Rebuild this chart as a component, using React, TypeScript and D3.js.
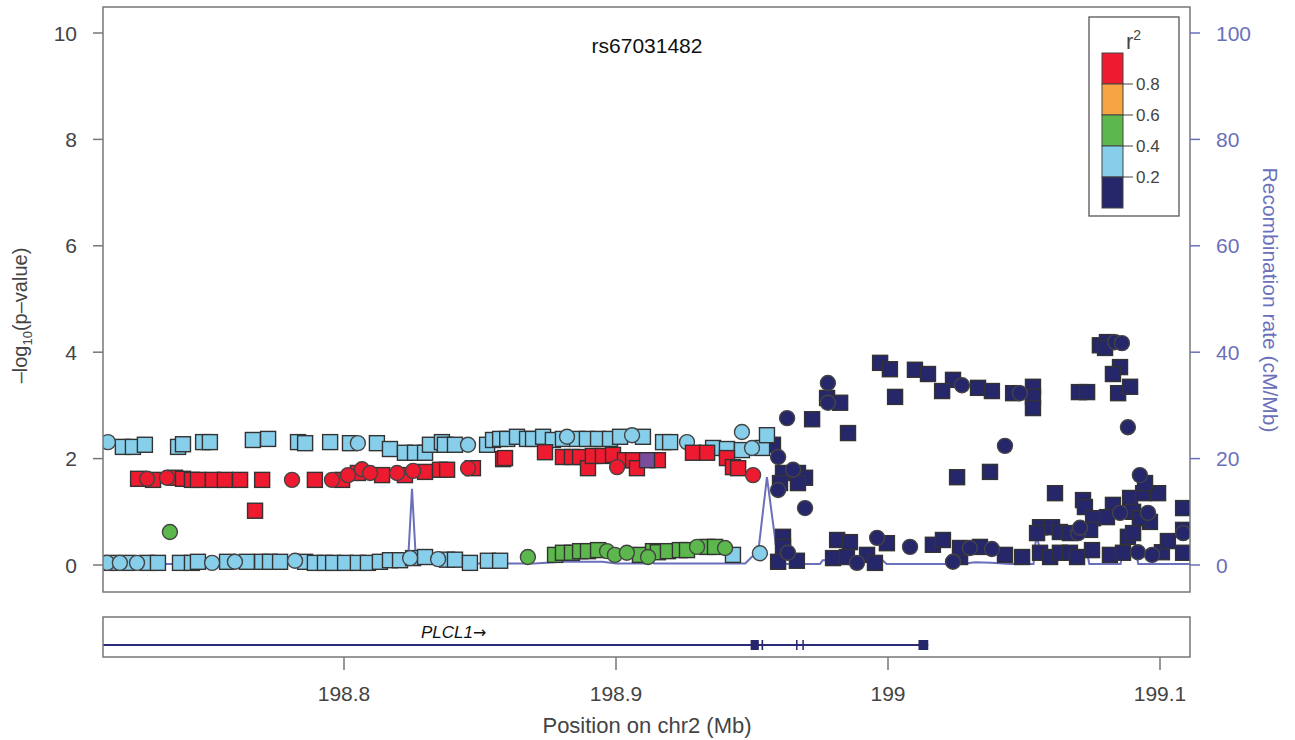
import * as d3 from "d3";

// r2 legend classes (bottom to top)
const legendColors = ["#26266b", "#87ceeb", "#5cb84c", "#f7a443", "#ee1a2f"];
const legendTicks = ["0.2", "0.4", "0.6", "0.8"];

const leftTicks = [0, 2, 4, 6, 8, 10];
const rightTicks = [0, 20, 40, 60, 80, 100];
const xTicks = [198.8, 198.9, 199, 199.1];

// [position Mb, -log10 p]
const skySquares: [number, number][] = [
  [198.7187, 2.22], [198.7224, 2.22], [198.7268, 2.26], [198.739, 2.22], [198.7408, 2.27],
  [198.7482, 2.31], [198.7507, 2.31], [198.7665, 2.35], [198.7721, 2.37], [198.7831, 2.31],
  [198.7857, 2.29], [198.7949, 2.31], [198.8022, 2.29], [198.8121, 2.29], [198.8169, 2.18],
  [198.8224, 2.11], [198.8261, 2.11], [198.8298, 2.11], [198.8316, 2.26], [198.836, 2.31],
  [198.8371, 2.26], [198.8408, 2.26], [198.8526, 2.26], [198.8548, 2.35], [198.8574, 2.37],
  [198.86, 2.37], [198.8636, 2.41], [198.8673, 2.37], [198.8695, 2.37], [198.8732, 2.41],
  [198.8768, 2.35], [198.8805, 2.37], [198.8857, 2.37], [198.8893, 2.37], [198.8934, 2.37],
  [198.8978, 2.37], [198.9015, 2.41], [198.9099, 2.41], [198.9173, 2.31], [198.9199, 2.31],
  [198.9357, 2.2], [198.9408, 2.18], [198.9463, 2.16], [198.9537, 2.2], [198.9555, 2.44],
  [198.7147, 0.04], [198.7206, 0.04], [198.7276, 0.04], [198.7316, 0.04], [198.7397, 0.04],
  [198.7441, 0.04], [198.7463, 0.06], [198.757, 0.06], [198.7643, 0.06], [198.7699, 0.06],
  [198.7728, 0.06], [198.7765, 0.06], [198.7857, 0.06], [198.7893, 0.04], [198.793, 0.04],
  [198.796, 0.04], [198.8004, 0.04], [198.8051, 0.04], [198.8088, 0.04], [198.8132, 0.06],
  [198.8169, 0.09], [198.8206, 0.09], [198.8254, 0.13], [198.8298, 0.15], [198.8379, 0.1],
  [198.8408, 0.1], [198.8463, 0.04], [198.8529, 0.08], [198.8574, 0.08], [198.943, 0.19],
];
const skyCircles: [number, number][] = [
  [198.7132, 2.31], [198.8051, 2.29], [198.8456, 2.26], [198.882, 2.41], [198.9059, 2.44],
  [198.9261, 2.31], [198.9463, 2.5], [198.95, 2.2],
  [198.7129, 0.04], [198.7176, 0.04], [198.7239, 0.04], [198.7515, 0.04], [198.7599, 0.06],
  [198.782, 0.08], [198.8243, 0.13], [198.8346, 0.11], [198.9529, 0.22],
];
const redSquares: [number, number][] = [
  [198.7243, 1.62], [198.7298, 1.6], [198.7379, 1.64], [198.7408, 1.62], [198.7441, 1.6],
  [198.7463, 1.6], [198.7518, 1.6], [198.7562, 1.6], [198.7618, 1.6], [198.7699, 1.6],
  [198.7893, 1.6], [198.7993, 1.6], [198.8051, 1.73], [198.814, 1.69], [198.8224, 1.69],
  [198.8298, 1.75], [198.8353, 1.79], [198.8379, 1.79], [198.8474, 1.82], [198.8585, 1.99],
  [198.8592, 2.01], [198.8739, 2.12], [198.8805, 2.03], [198.8838, 2.03], [198.8868, 2.03],
  [198.8897, 1.82], [198.8915, 2.05], [198.8952, 2.05], [198.8989, 2.07], [198.9033, 1.97],
  [198.9063, 1.97], [198.9077, 1.82], [198.9154, 1.97], [198.9283, 2.11], [198.9335, 2.11],
  [198.9408, 2.01], [198.943, 1.84], [198.9449, 1.82], [198.7673, 1.02],
];
const redCircles: [number, number][] = [
  [198.7276, 1.62], [198.7349, 1.64], [198.7809, 1.6], [198.7956, 1.6], [198.8015, 1.69],
  [198.8066, 1.8], [198.8096, 1.73], [198.8195, 1.73], [198.8254, 1.77], [198.8456, 1.82],
  [198.9004, 1.84], [198.9504, 1.69],
];
const purpleSquares: [number, number][] = [[198.9114, 1.97]];
const greenSquares: [number, number][] = [
  [198.8776, 0.19], [198.8805, 0.23], [198.8838, 0.23], [198.8868, 0.26], [198.8897, 0.26],
  [198.8934, 0.28], [198.9088, 0.19], [198.9136, 0.26], [198.9154, 0.24], [198.9191, 0.26],
  [198.9235, 0.28], [198.9261, 0.28], [198.9335, 0.34], [198.9364, 0.34],
];
const greenCircles: [number, number][] = [
  [198.736, 0.62], [198.8676, 0.15], [198.8967, 0.26], [198.8996, 0.19], [198.904, 0.23],
  [198.9118, 0.15], [198.9298, 0.34], [198.9401, 0.32],
];
const navySquares: [number, number][] = [
  [198.9776, 3.14], [198.9824, 3.05], [198.9971, 3.8], [199.0007, 3.68], [199.0099, 3.67],
  [199.0147, 3.59], [199.0026, 3.16], [199.0239, 3.48], [199.0199, 3.27], [199.0331, 3.33],
  [199.0382, 3.27], [199.046, 3.23], [199.0533, 3.35], [199.0533, 3.16], [199.0533, 2.95],
  [199.0702, 3.25], [199.0732, 3.25], [199.0779, 4.13], [199.0805, 4.19], [199.0798, 4.08],
  [199.0853, 3.72], [199.0827, 3.59], [199.0846, 3.23], [199.089, 3.35], [198.9721, 2.74],
  [198.9853, 2.48], [199.0254, 1.65], [199.0375, 1.75], [198.9577, 2.26], [198.9614, 1.73],
  [198.9669, 1.73], [198.9695, 1.64], [198.9603, 1.54], [198.9669, 1.54], [199.0614, 1.35],
  [199.0717, 1.22], [199.0724, 1.09], [199.0827, 1.13], [199.089, 1.26], [199.0938, 1.35],
  [199.0993, 1.35], [199.0945, 1.54], [199.1085, 1.07], [199.0754, 0.88], [199.0805, 0.9],
  [199.0901, 1.0], [199.0963, 0.81], [199.0926, 0.88], [199.0559, 0.71], [199.0603, 0.71],
  [199.0632, 0.62], [199.0669, 0.6], [199.0743, 0.66], [199.1085, 0.66], [198.9614, 0.53],
  [198.9614, 0.34], [198.9596, 0.06], [198.9665, 0.08], [198.9813, 0.47], [198.986, 0.43],
  [198.9996, 0.41], [199.0165, 0.38], [199.0202, 0.47], [198.9798, 0.13], [198.9849, 0.15],
  [198.9923, 0.19], [198.9952, 0.04], [199.0265, 0.15], [199.0265, 0.32], [199.0338, 0.34],
  [199.043, 0.19], [199.0493, 0.15], [199.0548, 0.6], [199.0559, 0.23], [199.0596, 0.15],
  [199.0632, 0.23], [199.0669, 0.23], [199.0695, 0.15], [199.075, 0.28], [199.0816, 0.19],
  [199.0864, 0.23], [199.0882, 0.53], [199.0901, 0.6], [199.1007, 0.24], [199.1029, 0.45],
  [199.1085, 0.23],
];
const navyCircles: [number, number][] = [
  [198.9779, 3.42], [198.9779, 3.05], [199.0272, 3.38], [199.0485, 3.23], [199.0835, 4.19],
  [199.086, 4.17], [199.0882, 2.59], [198.9629, 2.76], [199.043, 2.24], [198.9596, 2.03],
  [198.9651, 1.79], [198.9596, 1.41], [198.9695, 1.07], [199.0926, 1.69], [199.0853, 0.98],
  [199.0956, 0.98], [198.9632, 0.23], [198.9886, 0.04], [198.996, 0.51], [199.0081, 0.34],
  [199.0239, 0.06], [199.0301, 0.32], [199.0382, 0.3], [199.0699, 0.6], [199.0706, 0.7],
  [199.0919, 0.24], [199.0971, 0.19], [199.1085, 0.6],
];

// [position Mb, cM/Mb]
const recomb: [number, number][] = [
  [198.7114, 0.2], [198.79, 0.2], [198.8235, 0.3], [198.825, 14.3], [198.8265, 0.3],
  [198.87, 0.3], [198.88, 0.6], [198.895, 0.6], [198.9, 0.3], [198.911, 0.3],
  [198.9125, 1.0], [198.914, 0.3], [198.9475, 0.3], [198.9505, 1.8], [198.952, 1.2],
  [198.9555, 16.5], [198.9595, 1.0], [198.962, 0.2], [198.975, 0.2], [198.976, 0.9],
  [198.998, 0.9], [198.9995, 0.2], [199.027, 0.2], [199.032, 0.5], [199.038, 0.4],
  [199.045, 0.2], [199.0535, 0.2], [199.0545, 5.6], [199.056, 2.8], [199.073, 2.8],
  [199.074, 0.2], [199.0855, 0.2], [199.0865, 2.8], [199.091, 2.8], [199.092, 0.2],
  [199.111, 0.2],
];

const geneStart = 198.66;
const geneEnd = 199.0148;
const exons: [number, number][] = [
  [198.9495, 198.9525], [198.9535, 198.9541], [198.9662, 198.9667],
  [198.9685, 198.969], [199.0112, 199.0148],
];

const FONT = "'Liberation Sans', Arial, Helvetica, sans-serif";
const AXIS = "#777";
const RECOMB = "#6b70bb";

export default function App() {
  const W = 1295;
  const H = 740;
  const left = 103, right = 1190, top = 7, bottom = 592;
  const x = d3.scaleLinear().domain([198.8, 199.1]).range([344, 1160]);
  const y = d3.scaleLinear().domain([0, 10]).range([565, 33]);
  const yr = d3.scaleLinear().domain([0, 100]).range([565, 33]);

  const line = d3
    .line<[number, number]>()
    .x((d) => x(d[0]))
    .y((d) => yr(d[1]));

  const sq = (data: [number, number][], fill: string, key: string) =>
    data.map((d, i) => (
      <rect
        key={key + i}
        x={x(d[0]) - 7.5}
        y={y(d[1]) - 7.5}
        width={15}
        height={15}
        fill={fill}
        stroke="#333"
        strokeWidth={1.4}
      />
    ));
  const circ = (data: [number, number][], fill: string, key: string) =>
    data.map((d, i) => (
      <circle
        key={key + i}
        cx={x(d[0])}
        cy={y(d[1])}
        r={7.5}
        fill={fill}
        stroke="#444"
        strokeWidth={1.4}
      />
    ));

  const gTop = 617, gBot = 657, gY = 645;
  const legX = 1102, legY = 53, legH = 31, legW = 21;

  return (
    <svg
      width={W}
      height={H}
      style={{ position: "absolute", left: 0, top: 0, background: "#fff" }}
      fontFamily={FONT}
    >
      <defs>
        <clipPath id="plotClip">
          <rect x={left} y={top} width={right - left} height={bottom - top} />
        </clipPath>
        <clipPath id="geneClip">
          <rect x={left} y={gTop} width={right - left} height={gBot - gTop} />
        </clipPath>
      </defs>

      {/* recombination line */}
      <path
        d={line(recomb) || ""}
        fill="none"
        stroke={RECOMB}
        strokeWidth={2}
        clipPath="url(#plotClip)"
      />

      {/* points */}
      <g clipPath="url(#plotClip)">
        {sq(navySquares, legendColors[0], "ns")}
        {circ(navyCircles, legendColors[0], "nc")}
        {sq(skySquares, legendColors[1], "ss")}
        {circ(skyCircles, legendColors[1], "sc")}
        {sq(greenSquares, legendColors[2], "gs")}
        {circ(greenCircles, legendColors[2], "gc")}
        {sq(redSquares, legendColors[4], "rs")}
        {circ(redCircles, legendColors[4], "rc")}
        {sq(purpleSquares, "#7a4c9c", "ps")}
      </g>

      {/* frame */}
      <rect x={left} y={top} width={right - left} height={bottom - top} fill="none" stroke={AXIS} strokeWidth={1.5} />

      {/* left axis */}
      {leftTicks.map((t) => (
        <g key={"l" + t}>
          <line x1={left - 10} x2={left} y1={y(t)} y2={y(t)} stroke={AXIS} strokeWidth={1.5} />
          <text x={77} y={y(t)} dy="0.36em" textAnchor="end" fontSize={21} fill="#444">
            {t}
          </text>
        </g>
      ))}
      <text
        transform={`translate(27, ${(top + bottom) / 2 + 16}) rotate(-90)`}
        textAnchor="middle"
        fontSize={20}
        fill="#444"
      >
        –log<tspan fontSize={13} dy={5}>10</tspan>
        <tspan dy={-5}>(p–value)</tspan>
      </text>

      {/* right axis */}
      {rightTicks.map((t) => (
        <g key={"r" + t}>
          <line x1={right} x2={right + 10} y1={yr(t)} y2={yr(t)} stroke={RECOMB} strokeWidth={1.5} />
          <text x={1216} y={yr(t)} dy="0.36em" fontSize={21} fill={RECOMB}>
            {t}
          </text>
        </g>
      ))}
      <text
        transform={`translate(1263, 300) rotate(90)`}
        textAnchor="middle"
        fontSize={21}
        fill={RECOMB}
      >
        Recombination rate (cM/Mb)
      </text>

      {/* title */}
      <text x={647} y={45} dy="0.36em" textAnchor="middle" fontSize={21} fill="#111">
        rs67031482
      </text>

      {/* legend */}
      <rect x={1089} y={17} width={90} height={199} fill="#fff" stroke="#555" strokeWidth={1.3} />
      <text x={1126} y={49} fontSize={22} fill="#444">
        r<tspan fontSize={14} dy={-9}>2</tspan>
      </text>
      {legendColors
        .slice()
        .reverse()
        .map((c, i) => (
          <rect
            key={"lc" + i}
            x={legX}
            y={legY + i * legH}
            width={legW}
            height={legH}
            fill={c}
            stroke="#444"
            strokeWidth={1}
          />
        ))}
      {legendTicks
        .slice()
        .reverse()
        .map((t, i) => (
          <g key={"lt" + t}>
            <line
              x1={legX + legW}
              x2={legX + legW + 10}
              y1={legY + (i + 1) * legH}
              y2={legY + (i + 1) * legH}
              stroke="#444"
              strokeWidth={1}
            />
            <text x={legX + legW + 13} y={legY + (i + 1) * legH} dy="0.36em" fontSize={17} fill="#444">
              {t}
            </text>
          </g>
        ))}

      {/* gene track */}
      <g clipPath="url(#geneClip)">
        <line x1={x(geneStart)} x2={x(geneEnd)} y1={gY} y2={gY} stroke="#2b2b7a" strokeWidth={2} />
        {exons.map((e, i) => (
          <rect
            key={"ex" + i}
            x={x(e[0])}
            y={gY - 5}
            width={Math.max(1.5, x(e[1]) - x(e[0]))}
            height={10}
            fill="#26266b"
          />
        ))}
      </g>
      <text x={421} y={638} fontSize={17} fontStyle="italic" fill="#111">
        PLCL1
        <tspan fontStyle="normal" fontFamily="'DejaVu Sans', sans-serif" fontSize={16}>
          →
        </tspan>
      </text>
      <rect x={left} y={gTop} width={right - left} height={gBot - gTop} fill="none" stroke={AXIS} strokeWidth={1.5} />

      {/* x axis */}
      {xTicks.map((t) => (
        <g key={"x" + t}>
          <line x1={x(t)} x2={x(t)} y1={gBot} y2={gBot + 13} stroke={AXIS} strokeWidth={1.5} />
          <text x={x(t)} y={693} dy="0.36em" textAnchor="middle" fontSize={21} fill="#444">
            {t}
          </text>
        </g>
      ))}
      <text x={647} y={725} dy="0.36em" textAnchor="middle" fontSize={22} fill="#444">
        Position on chr2 (Mb)
      </text>
    </svg>
  );
}
